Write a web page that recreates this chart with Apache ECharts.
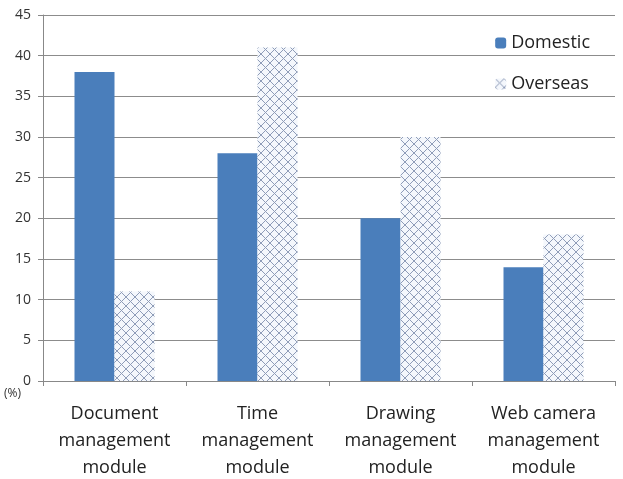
<!DOCTYPE html>
<html>
<head>
<meta charset="utf-8">
<script src="https://cdn.jsdelivr.net/npm/echarts@6/dist/echarts.min.js"></script>
<style>
  html, body { margin: 0; padding: 0; background: #fff; }
  #chart { width: 623px; height: 479px; }
</style>
</head>
<body>
<div id="chart"></div>
<script>
// categories and values
var categories = [
  'Document\nmanagement\nmodule',
  'Time\nmanagement\nmodule',
  'Drawing\nmanagement\nmodule',
  'Web camera\nmanagement\nmodule'
]
var domestic = [38, 28, 20, 14]
var overseas = [11, 41, 30, 18]

// crosshatch fill for the overseas bars
function hatch() {
  var c = document.createElement('canvas')
  c.width = 9
  c.height = 9
  var ctx = c.getContext('2d')
  ctx.fillStyle = '#f4f7fc'
  ctx.fillRect(0, 0, 9, 9)
  ctx.strokeStyle = '#8e9cb8'
  ctx.lineWidth = 1
  ctx.beginPath()
  ctx.moveTo(0, 0); ctx.lineTo(9, 9)
  ctx.moveTo(9, 0); ctx.lineTo(0, 9)
  ctx.stroke()
  return c
}

var chart = echarts.init(document.getElementById('chart'))
chart.setOption({
  animation: false,
  textStyle: { fontFamily: 'Open Sans, sans-serif' },
  grid: { left: 43, right: 8, top: 15, bottom: 98, outerBoundsMode: 'none' },
  legend: {
    orient: 'vertical',
    right: 28,
    top: 29,
    itemWidth: 11,
    itemHeight: 11,
    itemGap: 23,
    textStyle: { fontSize: 18, color: '#222' },
    data: ['Domestic', 'Overseas']
  },
  graphic: [{
    type: 'text',
    left: 4,
    top: 388,
    style: { text: '(%)', fontSize: 12, fill: '#333', fontFamily: 'Open Sans, sans-serif' }
  }],
  xAxis: {
    type: 'category',
    data: categories,
    axisLine: { lineStyle: { color: '#888' } },
    axisTick: { show: true, length: 5, lineStyle: { color: '#888' } },
    axisLabel: { interval: 0, fontSize: 18, color: '#222', lineHeight: 27, margin: 19 }
  },
  yAxis: {
    type: 'value',
    min: 0,
    max: 45,
    interval: 5,
    axisLine: { show: true, lineStyle: { color: '#888' } },
    axisTick: { show: true, length: 5, lineStyle: { color: '#888' } },
    axisLabel: { fontSize: 14, color: '#333', margin: 12 },
    splitLine: { lineStyle: { color: '#8c8c8c' } }
  },
  series: [
    {
      name: 'Domestic',
      type: 'bar',
      data: domestic,
      barWidth: 40,
      barGap: '0%',
      itemStyle: { color: '#4a7ebb' }
    },
    {
      name: 'Overseas',
      type: 'bar',
      data: overseas,
      barWidth: 40,
      itemStyle: { color: { image: hatch(), repeat: 'repeat' } }
    }
  ]
})
</script>
</body>
</html>
